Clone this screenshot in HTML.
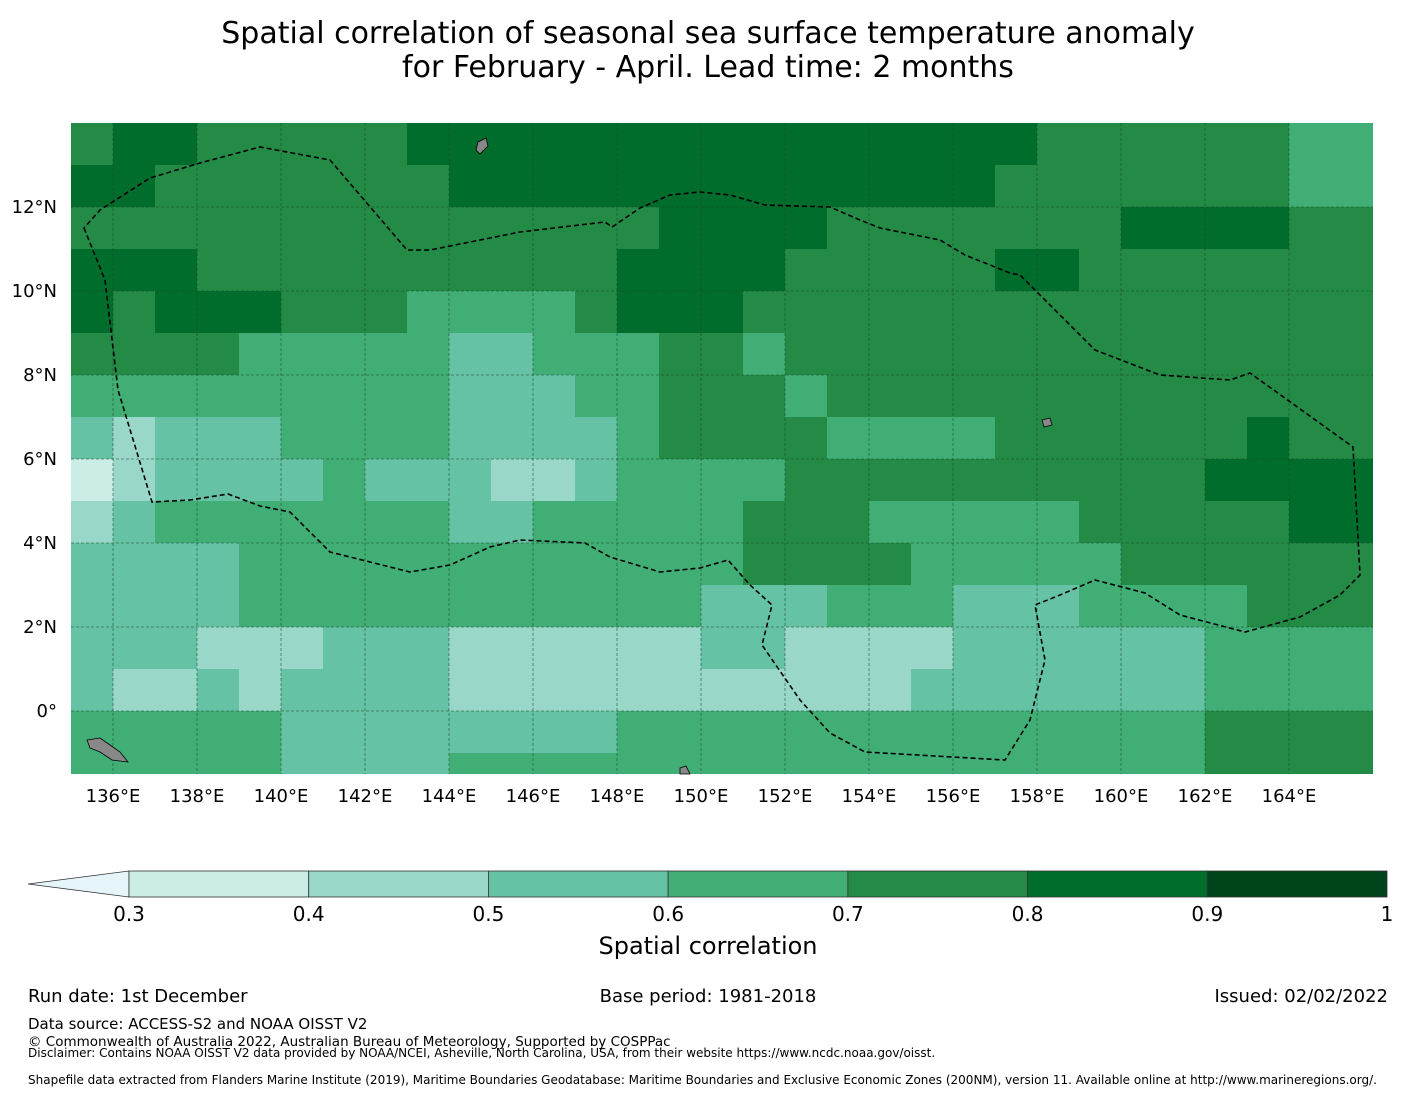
<!DOCTYPE html>
<html><head><meta charset="utf-8"><style>
body{margin:0;background:#fff;font-family:"Liberation Sans","DejaVu Sans",sans-serif;}
#wrap{position:relative;width:1416px;height:1095px;overflow:hidden;}
</style></head><body>
<div id="wrap">
<svg id="svg" width="1416" height="1095" xmlns="http://www.w3.org/2000/svg">
<text x="708" y="43" text-anchor="middle" font-size="30" font-family="DejaVu Sans, sans-serif">Spatial correlation of seasonal sea surface temperature anomaly</text>
<text x="708" y="77" text-anchor="middle" font-size="30" font-family="DejaVu Sans, sans-serif">for February - April. Lead time: 2 months</text>
<g id="cells"></g>
<g id="grid"></g>
<path id="eez" fill="none" stroke="#000" stroke-width="1.6" stroke-dasharray="5,3"
d="M84,228 L105,280 L118,390 L152,502 L190,500 L228,494 L260,506 L290,512 L330,552 L410,572 L450,565 L490,547 L520,540 L585,543 L610,557 L660,572 L700,568 L728,560 L750,585 L772,605 L762,645 L800,700 L830,733 L865,752 L1005,760 L1030,720 L1045,660 L1035,605 L1060,595 L1095,580 L1145,593 L1180,615 L1245,632 L1300,617 L1340,595 L1360,575 L1353,447 L1250,373 L1230,380 L1160,375 L1095,350 L1020,275 L1010,273 L965,255 L940,240 L880,228 L860,220 L830,207 L765,205 L730,195 L700,192 L670,195 L640,208 L612,227 L605,222 L520,232 L430,250 L407,250 L330,160 L260,147 L200,163 L150,178 L100,210 Z"/>
<g id="land">
<path d="M87,740 L100,738 L110,745 L120,752 L128,762 L112,760 L100,752 L90,748Z" fill="#888" stroke="#000" stroke-width="0.8"/>
<path d="M478,142 L486,138 L488,146 L480,154 L476,150Z" fill="#888" stroke="#000" stroke-width="0.8"/>
<path d="M1042,420 L1050,418 L1052,425 L1044,427Z" fill="#888" stroke="#000" stroke-width="0.8"/>
<path d="M680,768 L686,766 L690,774 L680,774Z" fill="#888" stroke="#000" stroke-width="0.8"/>
</g>
<g id="xt"></g>
<g id="yt"></g>
<g id="cbar"></g>
<text x="708" y="954" text-anchor="middle" font-size="24" font-family="DejaVu Sans, sans-serif">Spatial correlation</text>
<g font-family="DejaVu Sans, sans-serif" font-size="18">
<text x="28" y="1002">Run date: 1st December</text>
<text x="708" y="1002" text-anchor="middle">Base period: 1981-2018</text>
<text x="1388" y="1002" text-anchor="end">Issued: 02/02/2022</text>
</g>
<g font-family="DejaVu Sans, sans-serif">
<text x="28" y="1029" font-size="15">Data source: ACCESS-S2 and NOAA OISST V2</text>
<text x="28" y="1046" font-size="13.5">© Commonwealth of Australia 2022, Australian Bureau of Meteorology, Supported by COSPPac</text>
<text x="28" y="1057" font-size="12">Disclaimer: Contains NOAA OISST V2 data provided by NOAA/NCEI, Asheville, North Carolina, USA, from their website https://www.ncdc.noaa.gov/oisst.</text>
<text x="28" y="1084" font-size="12">Shapefile data extracted from Flanders Marine Institute (2019), Maritime Boundaries Geodatabase: Maritime Boundaries and Exclusive Economic Zones (200NM), version 11. Available online at http://www.marineregions.org/.</text>
</g>
</svg>
</div>
<script>
// grid rows from 14N downward, 1° each; columns 135E..165E (1° each). Digit = class index
const gridRows = [
"5665555566666666666666655555544",
"6655555556666666666666555555544",
"5555555555555566665555555666655",
"6665555555555666655555665555555",
"6566655544445666555555555555555",
"5555444443344455455555555555555",
"4444444443334455545555555555555",
"3233344443333455554444555555655",
"1233334333223444455555555556666",
"2344444443344444555444445555566",
"3333444444444444555544444555555",
"3333444444444443334443334444555",
"3332223332222223322223333334444",
"3223233332222222222233333334444",
"4444433333333444444444444445555",
"4444433334444444444444444445555"
];
const latTop = 14, lonLeft = 135;
const xTicks = [136,138,140,142,144,146,148,150,152,154,156,158,160,162,164];
const yTicks = [12,10,8,6,4,2,0];
const cbBounds = [0.3,0.4,0.5,0.6,0.7,0.8,0.9,1];
const cbLabels = ["0.3","0.4","0.5","0.6","0.7","0.8","0.9","1"];
const classColors = ["#e5f5f9","#ccece6","#99d8c9","#66c2a4","#41ae76","#238b45","#006d2c","#00441b"];

const NS="http://www.w3.org/2000/svg";
const X0=71,X1=1373,Y0=123,Y1=774,PPD=42;
const xs = lon => X0+(lon-lonLeft)*PPD;
const ys = lat => Y0+(latTop-lat)*PPD;
function mk(t,a){const e=document.createElementNS(NS,t);for(const k in a)e.setAttribute(k,a[k]);return e;}
const cells=document.getElementById('cells');
gridRows.forEach((row,r)=>{
  for(let c=0;c<row.length;c++){
    const x=xs(lonLeft+c), y=ys(latTop-r);
    const w=Math.min(PPD+0.5,X1-x), h=Math.min(PPD+0.5,Y1-y);
    if(w<=0||h<=0) continue;
    const el=mk('rect',{x:x,y:y,width:w,height:h,fill:classColors[+row[c]]});
    
    
    cells.appendChild(el);
  }
});
const grid=document.getElementById('grid'), xt=document.getElementById('xt'), yt=document.getElementById('yt');
xTicks.forEach(v=>{
  const x=xs(v);
  const l=mk('line',{x1:x,x2:x,y1:Y0,y2:Y1,stroke:'#1a4a2a','stroke-width':0.8,'stroke-dasharray':'3,2','stroke-opacity':0.7});
  
  
  grid.appendChild(l);
  const t=mk('text',{x:x,y:802,'text-anchor':'middle','font-size':18,'font-family':'DejaVu Sans, sans-serif'});
  t.textContent=v+'°E';
  
  
  xt.appendChild(t);
});
yTicks.forEach(v=>{
  const y=ys(v);
  const l=mk('line',{x1:X0,x2:X1,y1:y,y2:y,stroke:'#1a4a2a','stroke-width':0.8,'stroke-dasharray':'3,2','stroke-opacity':0.7});
  
  
  grid.appendChild(l);
  const t=mk('text',{x:57,y:y+6,'text-anchor':'end','font-size':18,'font-family':'DejaVu Sans, sans-serif'});
  t.textContent=v===0?'0°':v+'°N';
  
  
  yt.appendChild(t);
});
const cb=document.getElementById('cbar');
const CX0=129,CX1=1387,CY=871,CH=26;
const cx=v=>CX0+(v-0.3)/(0.7)*(CX1-CX0);
const tri=mk('path',{d:`M${CX0},${CY} L28,${CY+CH/2} L${CX0},${CY+CH} Z`,fill:classColors[0],stroke:'#333','stroke-width':0.8});


cb.appendChild(tri);
for(let i=0;i<cbBounds.length-1;i++){
  const r=mk('rect',{x:cx(cbBounds[i]),y:CY,width:cx(cbBounds[i+1])-cx(cbBounds[i]),height:CH,fill:classColors[i+1],stroke:'#333','stroke-width':0.8});
  
  
  cb.appendChild(r);
}
cbBounds.forEach((v,i)=>{
  const t=mk('text',{x:cx(v),y:921,'text-anchor':'middle','font-size':20,'font-family':'DejaVu Sans, sans-serif'});
  t.textContent=cbLabels[i];
  
  
  cb.appendChild(t);
});
</script>
</body></html>
